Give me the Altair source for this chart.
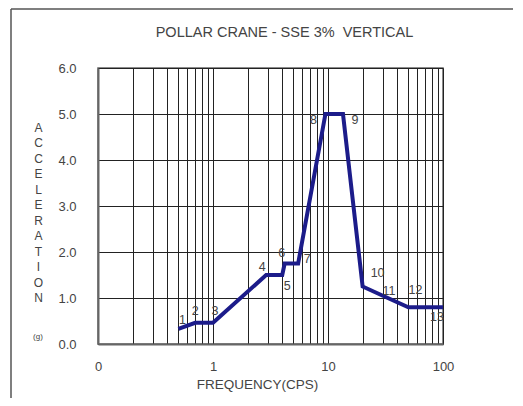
import altair as alt
import pandas as pd

# Data
point_ids = ["1", "2", "3", "4", "5", "6", "7", "8", "9", "10", "11", "12", "13"]
frequency = [0.5, 0.7, 1.0, 2.9, 4.0, 4.2, 5.5, 9.5, 13.5, 20.0, 30.0, 50.0, 100.0]
acceleration = [0.33, 0.46, 0.46, 1.5, 1.5, 1.75, 1.75, 5.0, 5.0, 1.25, 1.05, 0.8, 0.8]

x_decade_labels = {0.1: "0", 1: "1", 10: "10", 100: "100"}
y_ticks = [0, 1, 2, 3, 4, 5, 6]
x_grid = [round(m * 10 ** e, 6) for e in (-1, 0, 1) for m in range(1, 10)] + [100.0]

title_text = "POLLAR CRANE - SSE 3%\u00a0\u00a0VERTICAL"
x_title = "FREQUENCY(CPS)"
y_title_letters = list("ACCELERATION")
unit_text = "(g)"

# label placement (styling only)
label_offsets = {
    "1": (4, -9), "2": (0, -12), "3": (2, -12), "4": (-4, -8), "5": (5, 11),
    "6": (-3, -11), "7": (9, -5), "8": (-12, 6), "9": (12, 6), "10": (15, -14),
    "11": (6, -5), "12": (7, -17), "13": (-6, 10),
}

df = pd.DataFrame({"id": point_ids, "f": frequency, "a": acceleration})

FONT = "Liberation Sans"
TXT = "#444444"
W, H = 345, 276

label_expr = " : ".join(
    [f"abs(datum.value - {k}) < 1e-9 ? '{v}'" for k, v in x_decade_labels.items()]
) + " : ''"

x_enc = alt.X(
    "f:Q",
    scale=alt.Scale(type="log", domain=[0.1, 100], nice=False),
    axis=alt.Axis(
        values=x_grid,
        labelExpr=label_expr,
        grid=True,
        gridColor="#222222",
        gridWidth=1,
        ticks=False,
        domainColor="#666666",
        domainWidth=2,
        labelFont=FONT,
        labelFontSize=13,
        labelColor=TXT,
        labelPadding=16,
        labelOverlap=False,
        labelBound=False,
        labelFlush=False,
        title=x_title,
        titleFont=FONT,
        titleFontSize=13.5,
        titleFontWeight="normal",
        titleColor=TXT,
        titlePadding=4,
        titleX=159,
        titleAlign="center",
    ),
)

y_enc = alt.Y(
    "a:Q",
    scale=alt.Scale(domain=[0, 6], nice=False),
    axis=alt.Axis(
        values=y_ticks,
        format=".1f",
        grid=True,
        gridColor="#222222",
        gridWidth=1,
        ticks=False,
        domainColor="#666666",
        domainWidth=2,
        labelFont=FONT,
        labelFontSize=13,
        labelColor=TXT,
        labelPadding=22,
        title=y_title_letters,
        titleFont=FONT,
        titleFontSize=12,
        titleFontWeight="normal",
        titleColor=TXT,
        titleAngle=0,
        titleAlign="center",
        titleBaseline="top",
        titleLineHeight=15.5,
        titleX=-60,
        titleY=54,
    ),
)

line = alt.Chart(df).mark_line(color="#1c1c8a", strokeWidth=4, strokeJoin="miter").encode(
    x=x_enc, y=y_enc
)

label_layers = []
for pid in point_ids:
    dx, dy = label_offsets[pid]
    label_layers.append(
        alt.Chart(df[df["id"] == pid])
        .mark_text(font=FONT, fontSize=12.5, color=TXT, dx=dx, dy=dy)
        .encode(x="f:Q", y="a:Q", text="id:N")
    )

unit = alt.Chart(pd.DataFrame({"t": [unit_text]})).mark_text(
    font=FONT, fontSize=8, color=TXT
).encode(x=alt.value(-60), y=alt.value(269), text="t:N")

# title as a text mark, centred a little right of the plot centre
title = alt.Chart(pd.DataFrame({"t": [title_text]})).mark_text(
    font=FONT, fontSize=14.5, color=TXT, align="center", baseline="middle"
).encode(x=alt.value(W / 2 + 14), y=alt.value(-35), text="t:N")

# outer frame lines of the reference picture
border_top = alt.Chart(pd.DataFrame({"k": [0]})).mark_rule(color="#555555", strokeWidth=1.5).encode(
    x=alt.value(-87), x2=alt.value(430), y=alt.value(-59)
)
border_left = alt.Chart(pd.DataFrame({"k": [0]})).mark_rule(color="#555555", strokeWidth=1.5).encode(
    x=alt.value(-87), y=alt.value(-59), y2=alt.value(340)
)

chart = (
    alt.layer(line, *label_layers, unit, title, border_top, border_left)
    .properties(
        width=W,
        height=H,
        background="white",
        autosize=alt.AutoSizeParams(type="none"),
        padding={"left": 90, "top": 60, "right": 70, "bottom": 54},
    )
    .configure_view(stroke="#666666", strokeWidth=1.5)
)

chart.save("out.html", embed_options={"renderer": "svg", "actions": False})
